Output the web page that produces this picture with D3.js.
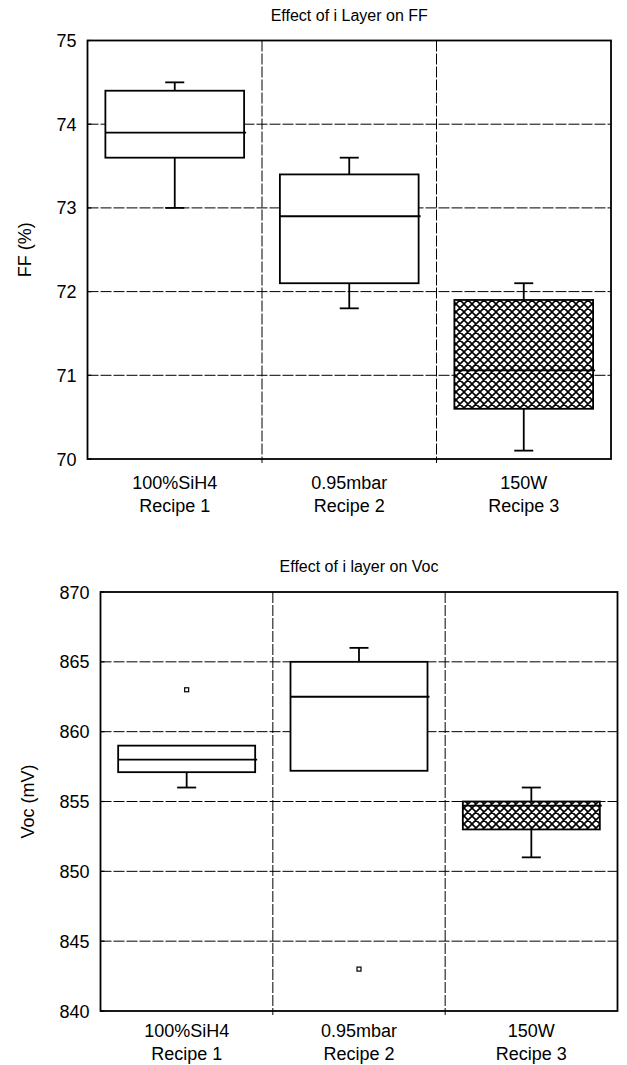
<!DOCTYPE html>
<html>
<head>
<meta charset="utf-8">
<script src="https://cdn.jsdelivr.net/npm/d3@7"></script>
<style>
  body { margin: 0; background: #fff; }
  svg { display: block; font-family: "Liberation Sans", Arial, Helvetica, sans-serif; }
  .grid { stroke: #000; stroke-width: 1; stroke-dasharray: 11,2; fill: none; }
  .frame { stroke: #000; stroke-width: 1.8; fill: none; }
  .box { stroke: #000; stroke-width: 1.8; }
</style>
</head>
<body>
<svg id="chart" width="627" height="1065"></svg>
<script>
const svg = d3.select("#chart");

// categories
const recipeNames = ["100%SiH4", "0.95mbar", "150W"];
const recipeLabels = ["Recipe 1", "Recipe 2", "Recipe 3"];
const hatched = [false, false, true];

// FF (%) box stats
const ffMin = [73.0, 71.8, 70.1];
const ffQ1 = [73.6, 72.1, 70.6];
const ffMedian = [73.9, 72.9, 71.06];
const ffQ3 = [74.4, 73.4, 71.9];
const ffMax = [74.5, 73.6, 72.1];
const ffOutliers = [[], [], []];
const ffTicks = [70, 71, 72, 73, 74, 75];

// Voc (mV) box stats
const vocMin = [856, 857.2, 851];
const vocQ1 = [857.1, 857.2, 853];
const vocMedian = [858, 862.5, 854.7];
const vocQ3 = [859, 865, 855];
const vocMax = [859, 866, 856];
const vocOutliers = [[863], [843], []];
const vocTicks = [840, 845, 850, 855, 860, 865, 870];

// cross hatch pattern
const defs = svg.append("defs");
const pat = defs.append("pattern")
  .attr("id", "hatch")
  .attr("patternUnits", "userSpaceOnUse")
  .attr("width", 8).attr("height", 8);
pat.append("rect").attr("width", 8).attr("height", 8).attr("fill", "#fff");
pat.append("path")
  .attr("d", "M0,0L8,8M8,0L0,8M-1,7L1,9M7,-1L9,1M-1,1L1,-1M7,9L9,7")
  .attr("stroke", "#000").attr("stroke-width", 1.6);

function drawBoxChart(opt) {
  const g = svg.append("g");
  const {x0, x1, y0, y1} = opt;

  const x = d3.scaleBand().domain(d3.range(recipeNames.length)).range([x0, x1]);
  const y = d3.scaleLinear().domain(opt.domain).range([y1, y0]);

  // horizontal grid
  g.selectAll(".hgrid").data(opt.ticks.slice(1, -1)).join("line")
    .attr("class", "grid")
    .attr("x1", x0).attr("x2", x1)
    .attr("y1", d => y(d)).attr("y2", d => y(d));

  // vertical dividers
  const dividers = d3.range(1, recipeNames.length).map(i => x(i));
  g.selectAll(".vgrid").data(dividers).join("line")
    .attr("class", "grid")
    .attr("x1", d => d).attr("x2", d => d)
    .attr("y1", y0).attr("y2", y1 + 4);

  // frame
  g.append("rect").attr("class", "frame")
    .attr("x", x0).attr("y", y0).attr("width", x1 - x0).attr("height", y1 - y0);

  // short inward ticks on y axis
  g.selectAll(".ytick").data(opt.ticks).join("line")
    .attr("stroke", "#000").attr("stroke-width", 1.2)
    .attr("x1", x0).attr("x2", x0 + 4)
    .attr("y1", d => y(d)).attr("y2", d => y(d));

  // tick labels
  g.selectAll(".ylab").data(opt.ticks).join("text")
    .attr("x", x0 - 11).attr("y", d => y(d) + 6.5)
    .attr("text-anchor", "end")
    .attr("font-size", 18)
    .text(d => d);

  // boxes
  const bw = x.bandwidth() * 0.795;
  const capW = 19;
  const s = opt.stats;
  recipeNames.forEach((_, i) => {
    const cx = x(i) + x.bandwidth() / 2;
    const bg = g.append("g");
    if (s.max[i] > s.q3[i]) {
      bg.append("line").attr("class", "box")
        .attr("x1", cx).attr("x2", cx).attr("y1", y(s.q3[i])).attr("y2", y(s.max[i]));
      bg.append("line").attr("class", "box")
        .attr("x1", cx - capW / 2).attr("x2", cx + capW / 2).attr("y1", y(s.max[i])).attr("y2", y(s.max[i]));
    }
    if (s.min[i] < s.q1[i]) {
      bg.append("line").attr("class", "box")
        .attr("x1", cx).attr("x2", cx).attr("y1", y(s.q1[i])).attr("y2", y(s.min[i]));
      bg.append("line").attr("class", "box")
        .attr("x1", cx - capW / 2).attr("x2", cx + capW / 2).attr("y1", y(s.min[i])).attr("y2", y(s.min[i]));
    }
    bg.append("rect").attr("class", "box")
      .attr("x", cx - bw / 2).attr("width", bw)
      .attr("y", y(s.q3[i])).attr("height", y(s.q1[i]) - y(s.q3[i]))
      .attr("fill", hatched[i] ? "url(#hatch)" : "#fff");
    bg.append("line").attr("class", "box")
      .attr("x1", cx - bw / 2).attr("x2", cx + bw / 2 + 2)
      .attr("y1", y(s.median[i])).attr("y2", y(s.median[i]));
    bg.selectAll(".out").data(s.outliers[i]).join("rect")
      .attr("x", cx - 2).attr("y", d => y(d) - 2)
      .attr("width", 4).attr("height", 4)
      .attr("fill", "#fff").attr("stroke", "#000").attr("stroke-width", 1.2);
  });

  // category labels
  recipeNames.forEach((name, i) => {
    const cx = x(i) + x.bandwidth() / 2;
    g.append("text").attr("x", cx).attr("y", y1 + opt.catY)
      .attr("text-anchor", "middle").attr("font-size", 18).text(name);
    g.append("text").attr("x", cx).attr("y", y1 + opt.catY + 23)
      .attr("text-anchor", "middle").attr("font-size", 18).text(recipeLabels[i]);
  });

  // title
  g.append("text").attr("x", (x0 + x1) / 2).attr("y", y0 - 20)
    .attr("text-anchor", "middle").attr("font-size", 16).text(opt.title);

  // y axis label
  g.append("text")
    .attr("transform", `translate(${opt.labelX},${(y0 + y1) / 2}) rotate(-90)`)
    .attr("text-anchor", "middle").attr("font-size", 18).text(opt.yLabel);
}

drawBoxChart({
  x0: 87.5, x1: 611, y0: 40.5, y1: 459,
  domain: [70, 75], ticks: ffTicks,
  stats: {min: ffMin, q1: ffQ1, median: ffMedian, q3: ffQ3, max: ffMax, outliers: ffOutliers},
  title: "Effect of i Layer on FF",
  yLabel: "FF  (%)",
  labelX: 31,
  catY: 30
});

drawBoxChart({
  x0: 100.5, x1: 617.5, y0: 592, y1: 1011,
  domain: [840, 870], ticks: vocTicks,
  stats: {min: vocMin, q1: vocQ1, median: vocMedian, q3: vocQ3, max: vocMax, outliers: vocOutliers},
  title: "Effect of i layer on Voc",
  yLabel: "Voc (mV)",
  labelX: 34,
  catY: 26
});
</script>
</body>
</html>
